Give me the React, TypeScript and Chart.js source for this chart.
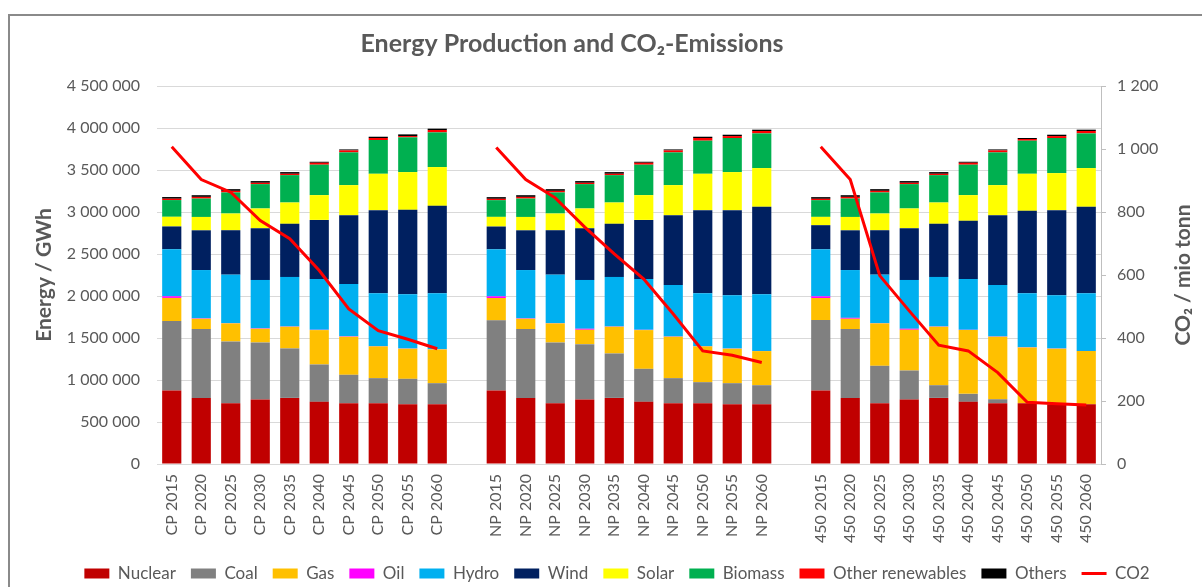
import React, { useEffect, useRef } from 'react';
import { Chart, registerables } from 'chart.js';

Chart.register(...registerables);

// ---- Categories ----
const scenarios = ['CP', 'NP', '450'];
const years = [2015, 2020, 2025, 2030, 2035, 2040, 2045, 2050, 2055, 2060];

// ---- Series (GWh), order: CP 2015..2060, NP 2015..2060, 450 2015..2060 ----
const nuclear = [
  875000, 787000, 724000, 767000, 787000, 740000, 724000, 724000, 712000, 712000,
  875000, 787000, 724000, 767000, 787000, 740000, 724000, 724000, 712000, 712000,
  875000, 787000, 724000, 767000, 787000, 740000, 724000, 724000, 712000, 712000,
];
const coal = [
  827000, 819000, 735000, 680000, 589000, 445000, 338000, 298000, 302000, 250000,
  835000, 819000, 723000, 660000, 529000, 393000, 298000, 250000, 250000, 226000,
  839000, 819000, 445000, 346000, 151000, 95000, 47000, 0, 0, 0,
];
const gas = [
  275000, 123000, 215000, 163000, 258000, 409000, 453000, 378000, 358000, 402000,
  266000, 123000, 227000, 171000, 318000, 461000, 493000, 426000, 410000, 406000,
  262000, 123000, 505000, 485000, 696000, 759000, 744000, 664000, 660000, 632000,
];
const oil = [
  20000, 5000, 3000, 5000, 3000, 3000, 5000, 3000, 2000, 2000,
  20000, 5000, 3000, 12000, 3000, 3000, 3000, 3000, 2000, 2000,
  20000, 11000, 3000, 12000, 3000, 3000, 3000, 3000, 2000, 2000,
];
const hydro = [
  560000, 575000, 577000, 576000, 590000, 606000, 623000, 629000, 646000, 666000,
  560000, 575000, 577000, 581000, 590000, 606000, 613000, 629000, 634000, 674000,
  560000, 569000, 577000, 581000, 590000, 606000, 613000, 641000, 634000, 686000,
];
const wind = [
  271000, 473000, 529000, 616000, 632000, 703000, 819000, 990000, 1006000, 1041000,
  271000, 473000, 529000, 616000, 632000, 703000, 831000, 990000, 1014000, 1042000,
  287000, 473000, 529000, 616000, 632000, 692000, 831000, 982000, 1014000, 1030000,
];
const solar = [
  115000, 159000, 199000, 235000, 254000, 295000, 358000, 433000, 449000, 462000,
  115000, 159000, 199000, 235000, 254000, 295000, 358000, 433000, 453000, 461000,
  99000, 159000, 199000, 235000, 254000, 306000, 358000, 441000, 441000, 461000,
];
const biomass = [
  199000, 219000, 251000, 290000, 326000, 362000, 390000, 402000, 414000, 413000,
  199000, 219000, 251000, 290000, 326000, 362000, 390000, 394000, 406000, 413000,
  199000, 219000, 251000, 290000, 326000, 362000, 390000, 394000, 418000, 413000,
];
const otherRenewables = [
  16000, 20000, 19000, 16000, 16000, 23000, 23000, 24000, 15000, 28000,
  16000, 20000, 19000, 16000, 16000, 23000, 23000, 32000, 23000, 28000,
  16000, 20000, 19000, 16000, 16000, 23000, 23000, 20000, 23000, 28000,
];
const others = [
  20000, 20000, 20000, 20000, 20000, 12000, 12000, 15000, 20000, 16000,
  20000, 20000, 20000, 20000, 20000, 12000, 12000, 15000, 16000, 16000,
  20000, 20000, 20000, 20000, 20000, 12000, 12000, 12000, 16000, 16000,
];
// CO2, mio tonn
const co2 = [
  1007, 903, 863, 773, 715, 614, 492, 423, 396, 366,
  1005, 903, 845, 752, 667, 587, 476, 359, 345, 322,
  1007, 903, 598, 486, 377, 359, 290, 196, 191, 187,
];

// ---- Helpers ----
const withGaps = <T,>(arr: T[]): (T | null)[] => [
  ...arr.slice(0, 10), null, ...arr.slice(10, 20), null, ...arr.slice(20, 30),
];
const labels: string[] = [];
scenarios.forEach((s, i) => {
  if (i > 0) labels.push('');
  years.forEach((y) => labels.push(`${s} ${y}`));
});
const fmt = (v: number) => String(v).replace(/\B(?=(\d{3})+(?!\d))/g, ' ');

const GRAY = '#595959';
const FONT = "Lato, 'Open Sans', 'DejaVu Sans', sans-serif";

const barSeries: { label: string; data: number[]; color: string }[] = [
  { label: 'Nuclear', data: nuclear, color: '#c00000' },
  { label: 'Coal', data: coal, color: '#808080' },
  { label: 'Gas', data: gas, color: '#ffc000' },
  { label: 'Oil', data: oil, color: '#ff00ff' },
  { label: 'Hydro', data: hydro, color: '#00b0f0' },
  { label: 'Wind', data: wind, color: '#002060' },
  { label: 'Solar', data: solar, color: '#ffff00' },
  { label: 'Biomass', data: biomass, color: '#00b050' },
  { label: 'Other renewables', data: otherRenewables, color: '#ff0000' },
  { label: 'Others', data: others, color: '#000000' },
];

const extras = {
  id: 'extras',
  afterLayout(chart: any) {
    const t = chart.titleBlock;
    if (t) { t.left = 0; t.right = 1144; }
    const l = chart.legend;
    if (l) { l.left = 32; l.right = 1202; }
  },
  afterDraw(chart: any) {
    const ctx = chart.ctx;
    const a = chart.chartArea;
    ctx.save();
    ctx.translate(1183, (a.top + a.bottom) / 2);
    ctx.rotate(-Math.PI / 2);
    ctx.font = `bold 21px ${FONT}`;
    ctx.fillStyle = GRAY;
    ctx.textAlign = 'center';
    ctx.textBaseline = 'middle';
    ctx.fillText('CO\u2082 / mio tonn', 0, 0);
    ctx.restore();
  },
};

export default function App() {
  const ref = useRef<HTMLCanvasElement | null>(null);

  useEffect(() => {
    if (!ref.current) return;
    Chart.defaults.font.family = FONT;
    const datasets: any[] = barSeries.map((s) => ({
      type: 'bar',
      label: s.label,
      data: withGaps(s.data),
      backgroundColor: s.color,
      borderWidth: 0,
      yAxisID: 'y',
      categoryPercentage: 0.65,
      barPercentage: 1,
      order: 0,
    }));
    datasets.push({
      type: 'line',
      label: 'CO2',
      data: withGaps(co2),
      borderColor: '#ff0000',
      backgroundColor: '#ff0000',
      borderWidth: 3,
      pointRadius: 0,
      tension: 0,
      spanGaps: false,
      yAxisID: 'y1',
      order: -1,
    });

    const chart = new Chart(ref.current, {
      type: 'bar',
      data: { labels, datasets },
      plugins: [extras],
      options: {
        responsive: false,
        animation: false,
        layout: { padding: { left: 0, right: 0, top: 0, bottom: -5 } },
        plugins: {
          title: {
            display: true,
            text: 'Energy Production and CO\u2082-Emissions',
            color: GRAY,
            font: { size: 25, weight: 'bold' },
            padding: { top: 29, bottom: 27 },
          },
          legend: {
            position: 'bottom',
            labels: {
              usePointStyle: true,
              pointStyleWidth: 25,
              boxHeight: 10,
              padding: 15,
              color: GRAY,
              font: { size: 17 },
              sort: (a: any, b: any) => a.datasetIndex - b.datasetIndex,
              generateLabels: (c: any) => {
                const items = (Chart.defaults.plugins.legend.labels as any).generateLabels(c);
                items.forEach((it: any) => {
                  it.pointStyle = it.datasetIndex === 10 ? 'line' : 'rect';
                  if (it.datasetIndex === 10) { it.lineWidth = 3; it.strokeStyle = '#ff0000'; }
                  else { it.lineWidth = 0; }
                });
                return items;
              },
            },
          },
          tooltip: { enabled: false },
        },
        scales: {
          x: {
            stacked: true,
            grid: { display: false, drawTicks: false },
            border: { display: true, color: '#d9d9d9' },
            ticks: {
              autoSkip: false,
              maxRotation: 90,
              minRotation: 90,
              padding: 10,
              color: GRAY,
              font: { size: 16 },
            },
            afterFit: (s: any) => { s.height = 86; },
          },
          y: {
            stacked: true,
            position: 'left',
            min: 0,
            max: 4500000,
            ticks: {
              stepSize: 500000,
              padding: 17,
              color: GRAY,
              font: { size: 16 },
              callback: (v: any) => fmt(Number(v)),
            },
            grid: { color: '#d9d9d9', drawTicks: false },
            border: { display: false },
            title: {
              display: true,
              text: 'Energy / GWh',
              color: GRAY,
              font: { size: 21, weight: 'bold' },
              padding: { top: 32, bottom: 0 },
            },
            afterFit: (s: any) => { s.width = 157; },
          },
          y1: {
            position: 'right',
            min: 0,
            max: 1200,
            ticks: {
              stepSize: 200,
              padding: 11,
              color: GRAY,
              font: { size: 16 },
              callback: (v: any) => fmt(Number(v)),
            },
            grid: { drawOnChartArea: false, drawTicks: true, tickLength: 5, color: '#bfbfbf' },
            border: { display: true, color: '#bfbfbf' },
            afterFit: (s: any) => { s.width = 101; },
          },
        },
      } as any,
    });
    return () => chart.destroy();
  }, []);

  return (
    <div style={{ position: 'fixed', left: 0, top: 0, width: 1202, height: 587, overflow: 'hidden', background: '#ffffff' }}>
      <div style={{ position: 'absolute', left: 8, top: 14, width: 1300, height: 700, border: '2px solid #8a8a8a', boxSizing: 'border-box' }} />
      <canvas ref={ref} width={1202} height={587} style={{ position: 'absolute', left: 0, top: 0, width: 1202, height: 587 }} />
    </div>
  );
}
